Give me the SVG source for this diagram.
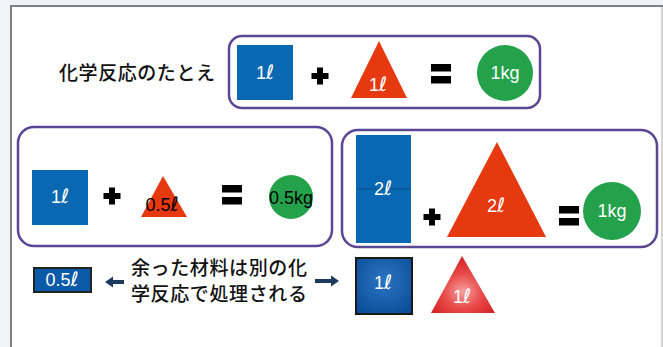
<svg xmlns="http://www.w3.org/2000/svg" xmlns:xlink="http://www.w3.org/1999/xlink" width="663" height="347" viewBox="0 0 663 347">
<defs>
<style>
.box{fill:#fff;stroke:#5b4595;stroke-width:2.5}
.sq{fill:#0a67b2}
.tri{fill:#e6390f}
.cir{fill:#23a24b}
.num{font-family:"Liberation Sans","DejaVu Sans",sans-serif;font-size:18px;fill:#fff;text-anchor:middle}
.l{font-family:"DejaVu Sans",sans-serif;font-style:italic;font-size:1.1em}
.jp{font-family:"Noto Sans CJK JP",sans-serif;font-size:19px;fill:#111;font-weight:500}
.arr{fill:#1c3a5e}
</style>
<g id="plus"><rect x="-8.5" y="-3" width="17" height="6"/><rect x="-3" y="-8.5" width="6" height="17"/></g>
<g id="eq"><rect x="0" y="0" width="20" height="7.5"/><rect x="0" y="12" width="20" height="7.5"/></g>
<radialGradient id="rg" cx="0.5" cy="0.62" r="0.6">
<stop offset="0" stop-color="#f7a0a0"/><stop offset="0.5" stop-color="#e84a4a"/><stop offset="1" stop-color="#d52222"/>
</radialGradient>
<radialGradient id="bg2" cx="0.5" cy="0.4" r="0.7">
<stop offset="0" stop-color="#2a74c4"/><stop offset="1" stop-color="#0b4d97"/>
</radialGradient>
</defs>
<rect x="0" y="0" width="663" height="347" fill="#f1f4f7"/>
<rect x="11" y="6" width="660" height="350" fill="#fff"/>
<line x1="11" y1="6" x2="663" y2="6" stroke="#808080" stroke-width="2"/>
<line x1="11" y1="5" x2="11" y2="347" stroke="#808080" stroke-width="2"/>
<line x1="662" y1="7" x2="662" y2="347" stroke="#c4c4c4" stroke-width="1.5"/>

<g id="title"><text class="jp" x="59" y="80" font-size="19.5" textLength="156">化学反応のたとえ</text></g>

<g id="box-top">
<rect class="box" x="229" y="36" width="311" height="72" rx="13"/>
<rect class="sq" x="237" y="45" width="56" height="55"/>
<text class="num" x="265" y="79">1<tspan class="l">ℓ</tspan></text>
<use xlink:href="#plus" x="320" y="76"/>
<polygon class="tri" points="379,41 407,98 351,98"/>
<text class="num" x="378" y="91">1<tspan class="l">ℓ</tspan></text>
<use xlink:href="#eq" x="431" y="64"/>
<circle class="cir" cx="505" cy="73" r="28"/>
<text class="num" x="505" y="79">1kg</text>
</g>

<g id="box-left">
<rect class="box" x="18" y="127" width="314" height="119" rx="16"/>
<rect class="sq" x="32" y="170" width="56" height="55"/>
<text class="num" x="60" y="203">1<tspan class="l">ℓ</tspan></text>
<use xlink:href="#plus" x="112" y="196"/>
<polygon class="tri" points="163,176 187,217 141,217"/>
<text class="num" x="162" y="211" font-size="17" style="fill:#000">0.5<tspan class="l">ℓ</tspan></text>
<use xlink:href="#eq" x="222" y="185"/>
<circle class="cir" cx="291" cy="197" r="22"/>
<text class="num" x="291" y="204" font-size="17" style="fill:#000" textLength="44">0.5kg</text>
</g>

<g id="box-right">
<rect class="box" x="342" y="130" width="315" height="117" rx="16"/>
<rect class="sq" x="356" y="135" width="55" height="108"/>
<line x1="356" y1="189" x2="411" y2="189" stroke="#0b4f8c" stroke-width="1.2"/>
<text class="num" x="383" y="195">2<tspan class="l">ℓ</tspan></text>
<use xlink:href="#plus" x="432" y="217"/>
<polygon class="tri" points="497,142 546,237 447,237"/>
<text class="num" x="496" y="212">2<tspan class="l">ℓ</tspan></text>
<use xlink:href="#eq" x="559" y="206"/>
<circle class="cir" cx="612" cy="211" r="29"/>
<text class="num" x="612" y="217">1kg</text>
</g>

<g id="remainder">
<rect x="34" y="268" width="57" height="24" fill="#0b5aa8" stroke="#222" stroke-width="2"/>
<text class="num" x="62" y="286" font-size="16">0.5<tspan class="l">ℓ</tspan></text>
</g>

<g id="note">
<text class="jp" font-size="17.5"><tspan x="131" y="275" textLength="176">余った材料は別の化</tspan><tspan x="131" y="301" textLength="176">学反応で処理される</tspan></text>
</g>

<g id="reuse-square">
<rect x="356" y="258" width="56" height="56" fill="url(#bg2)" stroke="#1a1a1a" stroke-width="2"/>
<text class="num" x="383" y="289">1<tspan class="l">ℓ</tspan></text>
</g>
<g id="reuse-triangle">
<polygon points="462,256 495,313 431,313" fill="url(#rg)"/>
<text class="num" x="462" y="303">1<tspan class="l">ℓ</tspan></text>
</g>

<g id="connectors">
<path class="arr" d="M105,282 L113,276.5 L113,280 L124,280 L124,284 L113,284 L113,287.5 Z"/>
<path class="arr" d="M339,281 L331,275.5 L331,279 L315,279 L315,283 L331,283 L331,286.5 Z"/>
</g>
</svg>
